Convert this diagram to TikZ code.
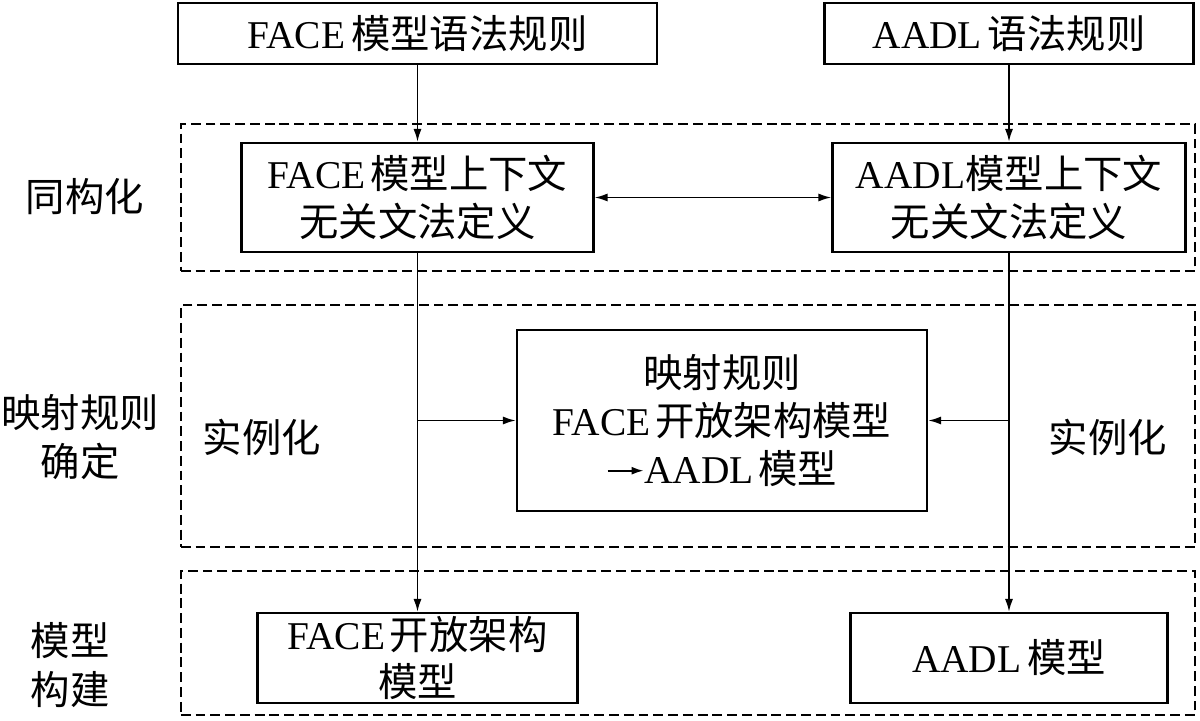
\documentclass[tikz,border=0pt]{standalone}
\usepackage{fontspec}
\setmainfont{Liberation Serif}
\newfontfamily\cjk{Noto Sans CJK SC}
\usetikzlibrary{arrows.meta}
\begin{document}
\begin{tikzpicture}[x=0.025cm,y=-0.025cm,
  box/.style={draw,line width=1.7pt,inner sep=0pt,align=center,font=\fontsize{28}{34}\selectfont},
  region/.style={draw,line width=1pt,dash pattern=on 7pt off 3.5pt,inner sep=0pt},
  conn/.style={line width=1.2pt,-{Latex[length=0.32cm,width=0.2cm]}},
  dconn/.style={line width=1.2pt,{Latex[length=0.32cm,width=0.2cm]}-{Latex[length=0.32cm,width=0.2cm]}},
  lab/.style={align=center,inner sep=0pt,font=\fontsize{28}{35}\selectfont}]
\useasboundingbox (0,0) rectangle (1200,721);

% dashed regions
\node[region,minimum width=25.35cm,minimum height=3.675cm] (r1) at (688,197.5) {};
\node[region,minimum width=25.35cm,minimum height=6.05cm] (r2) at (688,426) {};
\node[region,minimum width=25.35cm,minimum height=3.6cm] (r3) at (688,643) {};

% boxes
\node[box,minimum width=11.975cm,minimum height=1.525cm] (topL) at (417.5,33.5) {FACE\hspace{0.15em}{\cjk 模型语法规则}};
\node[box,minimum width=9.225cm,minimum height=1.525cm] (topR) at (1009,33.5) {AADL\hspace{0.15em}{\cjk 语法规则}};
\node[box,minimum width=8.8cm,minimum height=2.725cm] (ctxL) at (417.5,197.5) {FACE\hspace{0.12em}{\cjk 模型上下文}\\{\cjk 无关文法定义}};
\node[box,minimum width=8.825cm,minimum height=2.725cm] (ctxR) at (1009,197.5) {AADL{\cjk 模型上下文}\\{\cjk 无关文法定义}};
\node[box,minimum width=10.25cm,minimum height=4.525cm] (mid) at (722,420.5) {{\cjk 映射规则}\\FACE\hspace{0.12em}{\cjk 开放架构模型}\\\tikz[baseline=-0.32em]\draw[line width=1.3pt,-{Latex[length=0.3cm,width=0.2cm]}] (0,0) -- (0.9cm,0);AADL\hspace{0.12em}{\cjk 模型}};
\node[box,minimum width=8cm,minimum height=2.25cm] (botL) at (417.5,658) {FACE\hspace{0.12em}{\cjk 开放架构}\\{\cjk 模型}};
\node[box,minimum width=7.925cm,minimum height=2.25cm] (botR) at (1009,658) {AADL\hspace{0.15em}{\cjk 模型}};

% side labels
\node[lab] (s1) at (85,197) {\cjk 同构化};
\node[lab] (s2) at (80,437) {{\cjk 映射规则}\\{\cjk 确定}};
\node[lab] (s3) at (70,665) {{\cjk 模型}\\{\cjk 构建}};
\node[lab] (instL) at (262,437) {\cjk 实例化};
\node[lab] (instR) at (1108,437) {\cjk 实例化};

% connectors
\draw[conn] (topL) -- (ctxL);
\draw[conn] (topR) -- (ctxR);
\draw[dconn] (ctxL) -- (ctxR);
\draw[conn] (ctxL) -- (botL);
\draw[conn] (ctxR) -- (botR);
\coordinate (jL) at (ctxL.south |- mid.west);
\coordinate (jR) at (ctxR.south |- mid.east);
\draw[conn] (jL) -- (mid.west);
\draw[conn] (jR) -- (mid.east);
\end{tikzpicture}
\end{document}
